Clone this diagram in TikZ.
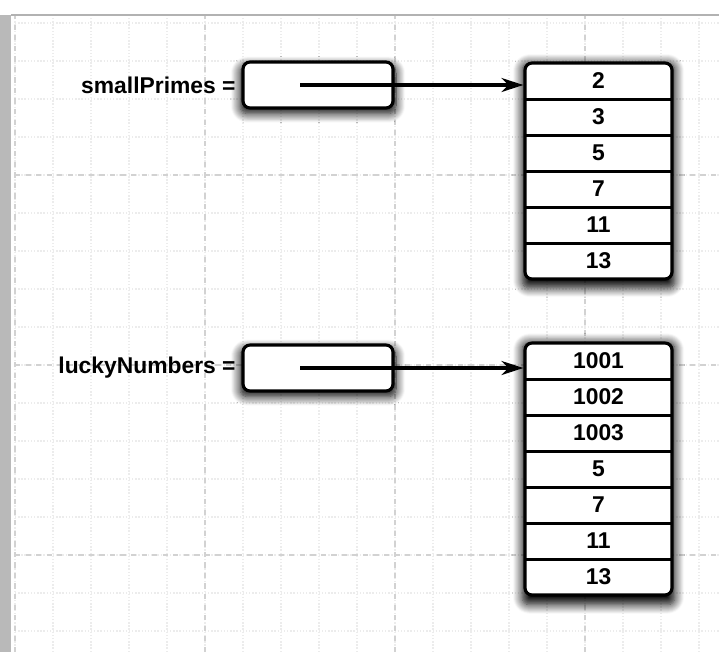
\documentclass[tikz,border=0pt]{standalone}
\usepackage{fontspec}
\setmainfont{Liberation Sans}
\usetikzlibrary{positioning,arrows.meta,shadows.blur}

\begin{document}
\begin{tikzpicture}[>={Stealth[length=0.44cm,width=0.28cm]}, thick,
    font=\bfseries\fontsize{13}{15}\selectfont,
    halo/.style={blur shadow={shadow xshift=0pt, shadow yshift=-2.5pt,
                 shadow blur radius=5pt, shadow blur steps=10,
                 shadow scale=1.04, shadow opacity=100}},
    ptr box/.style={draw, line width=1.8pt, rounded corners=4pt, fill=white,
                    minimum width=3cm, minimum height=0.92cm, halo},
    arr box/.style={draw, line width=1.8pt, rounded corners=4pt, fill=white,
                    minimum width=2.94cm, inner sep=0pt, halo},
    cell/.style={minimum width=2.94cm, minimum height=0.72cm, inner sep=0pt},
    var label/.style={anchor=east, inner sep=1pt},
    ref/.style={->, line width=2pt}]

  \useasboundingbox (0,0) rectangle (14.38,-13.04);

  % graph paper
  \begin{scope}[shift={(0.3,0.3)}]
    \draw[gray!15, densely dotted, step=0.76] (0,-0.6) grid (14.08,-13.34);
    \draw[gray!35, dashed, step=3.8] (0,-0.6) grid (14.08,-13.34);
  \end{scope}
  \fill[gray!55] (0,-0.3) rectangle (0.22,-13.04);
  \draw[gray!60, line width=1pt] (0.22,-0.3) -- (14.38,-0.3);

  % smallPrimes
  \node[ptr box] (spPtr) at (6.36,-1.70) {};
  \node[var label] (spLbl) at (4.76,-1.70) {smallPrimes =};
  \node[arr box, minimum height=4.32cm] (spArr) at (11.97,-3.42) {};
  \foreach \v [count=\i] in {2,3,5,7,11,13}
    \node[cell] (sp-\i) at (11.97,{-0.9-0.72*\i}) {\v};
  \foreach \i in {1,...,5}
    \draw[line width=1.4pt] (sp-\i.south west) -- (sp-\i.south east);

  % luckyNumbers
  \node[ptr box] (lnPtr) at (6.36,-7.36) {};
  \node[var label] (lnLbl) at (4.76,-7.36) {luckyNumbers =};
  \node[arr box, minimum height=5.04cm] (lnArr) at (11.97,-9.38) {};
  \foreach \v [count=\i] in {1001,1002,1003,5,7,11,13}
    \node[cell] (ln-\i) at (11.97,{-6.50-0.72*\i}) {\v};
  \foreach \i in {1,...,6}
    \draw[line width=1.4pt] (ln-\i.south west) -- (ln-\i.south east);

  % references
  \draw[ref] ([xshift=-0.36cm]spPtr.center) -- (spPtr.center -| spArr.west);
  \draw[ref] ([xshift=-0.36cm]lnPtr.center) -- (lnPtr.center -| lnArr.west);

\end{tikzpicture}
\end{document}
